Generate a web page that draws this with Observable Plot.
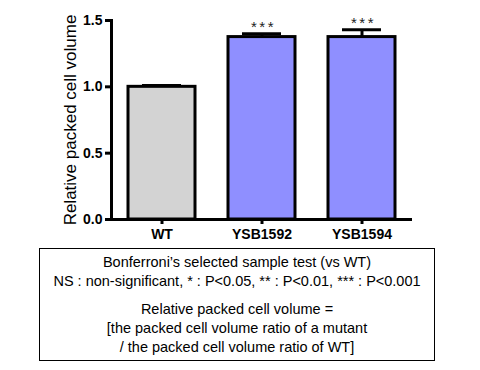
<!DOCTYPE html>
<html>
<head>
<meta charset="utf-8">
<script src="https://cdn.jsdelivr.net/npm/d3@7"></script>
<script src="https://cdn.jsdelivr.net/npm/@observablehq/plot@0.6"></script>
<style>
  body { margin: 0; background: #fff; }
  #note {
    position: absolute; left: 39px; top: 248px; width: 394px; height: 111px;
    border: 1.5px solid #000; font-family: "Liberation Sans", Arial, sans-serif;
    font-size: 14.5px; text-align: center; color: #000; line-height: 19px;
  }
  #note .gap { height: 9px; }
</style>
</head>
<body>
<div id="chart"></div>
<div id="note">
  <div style="margin-top:4px">Bonferroni’s selected sample test (vs WT)</div>
  <div>NS : non-significant, * : P&lt;0.05, ** : P&lt;0.01, *** : P&lt;0.001</div>
  <div class="gap"></div>
  <div>Relative packed cell volume =</div>
  <div>[the packed cell volume ratio of a mutant</div>
  <div>/ the packed cell volume ratio of WT]</div>
</div>
<script>
const categories = ["WT", "YSB1592", "YSB1594"];
const values = [1.0, 1.375, 1.375];
const errors = [0.01, 0.025, 0.055];
const significance = ["", "***", "***"];
const barColors = ["#d3d3d3", "#8f8fff", "#8f8fff"];
const yTicks = [0, 0.5, 1.0, 1.5];

const data = categories.map((c, i) => ({
  cat: c, value: values[i], err: values[i] + errors[i], sig: significance[i], color: barColors[i]
}));

const chart = Plot.plot({
  width: 480,
  height: 245,
  marginLeft: 111,
  marginRight: 68,
  marginTop: 20,
  marginBottom: 26,
  style: { fontFamily: "Liberation Sans, Arial, sans-serif", background: "#fff" },
  x: { domain: categories, paddingInner: 0.33, paddingOuter: 0.17, label: null },
  y: { domain: [0, 1.5], label: null },
  marks: [
    Plot.ruleX(data, { x: "cat", y1: "value", y2: "err", stroke: "#000", strokeWidth: 3 }),
    Plot.tickY(data, { x: "cat", y: "err", stroke: "#000", strokeWidth: 3, insetLeft: 14, insetRight: 14 }),
    Plot.barY(data, { x: "cat", y: "value", fill: "color", stroke: "#000", strokeWidth: 3 }),
    Plot.text(data, { x: "cat", y: "err", text: "sig", dy: -7, dx: 1.5, fontSize: 15, fill: "#222" }),
    Plot.ruleY([0], { stroke: "#000", strokeWidth: 3 }),
    Plot.frame({ anchor: "left", stroke: "#000", strokeWidth: 3 }),
    Plot.axisY({ ticks: yTicks, tickFormat: d3.format(".1f"), tickSize: 6, tickPadding: 3, strokeWidth: 3,
      fontSize: 14, fontWeight: "bold", label: "Relative packed cell volume", labelAnchor: "center",
      labelArrow: "none", labelOffset: 48, fill: "#000" }),
    Plot.axisX({ tickSize: 5, tickPadding: 5, strokeWidth: 3, fontSize: 14, fontWeight: "bold", fill: "#000" })
  ]
});
chart.querySelectorAll("[aria-label='y-axis label'] text, g[aria-label='y-axis label']").forEach(e => { e.setAttribute("font-size", 17); e.setAttribute("font-weight", "normal"); });
chart.querySelectorAll("g[aria-label='text'] text").forEach(e => { e.style.letterSpacing = "2.5px"; });
document.getElementById("chart").appendChild(chart);
</script>
</body>
</html>
